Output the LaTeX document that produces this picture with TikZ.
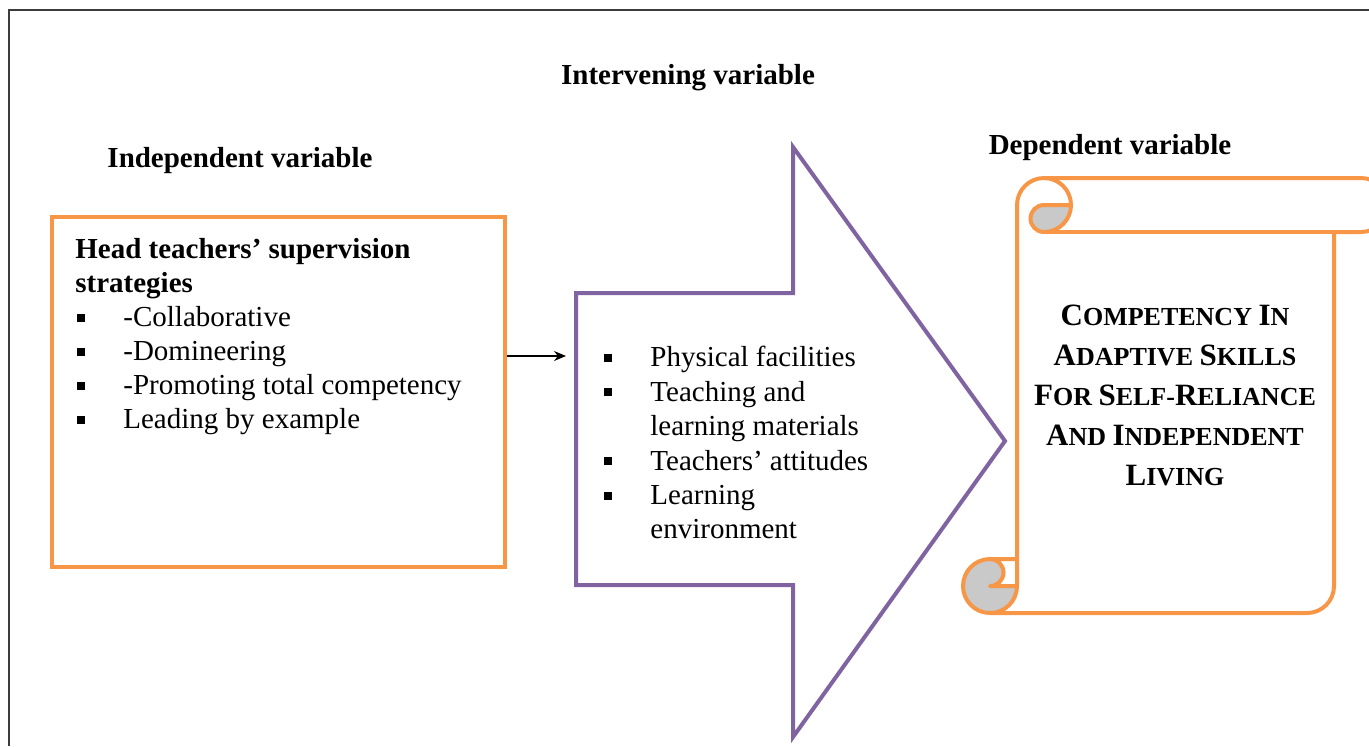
\documentclass[tikz,border=0pt]{standalone}
\usepackage{fontspec}
\setmainfont{Liberation Serif}
\usepackage{tikz}
\usetikzlibrary{arrows.meta,positioning}

\definecolor{fw_orange}{HTML}{F79646}
\definecolor{fw_purple}{HTML}{8064A2}
\definecolor{fw_curl}{HTML}{C9C9C9}
\definecolor{fw_frame}{HTML}{3C3C3C}

% square list bullet and a bulleted line
\newcommand{\sqbullet}{\rule[2.4pt]{4pt}{4pt}}
\newcommand{\bitem}[1]{\hspace*{1pt}\makebox[23pt][l]{\sqbullet}#1}
\newcommand{\bcont}[1]{\hspace*{24pt}#1}
% enlarged first letter for the caps title
\newcommand{\initcap}[1]{{\fontsize{15.5}{20}\selectfont #1}}

\tikzset{
    vartitle/.style={font=\fontsize{14.5}{17}\selectfont\bfseries, inner sep=0pt},
    listtext/.style={font=\fontsize{14.5}{17}\selectfont, align=left, inner sep=0pt, anchor=north west},
    scroll/.style={draw=fw_orange, line width=2pt, line join=round},
}

\begin{document}
\begin{tikzpicture}[x=0.5pt, y=-0.5pt]
        \useasboundingbox (0,0) rectangle (1369,746);

        % page frame
        \draw[fw_frame, line width=0.8pt] (9,746) -- (9,10) -- (1369,10);

        % headings
        \node[vartitle] (intlab) at (688,78) {Intervening variable};
        \node[vartitle] (indlab) at (240,161) {Independent variable};
        \node[vartitle] (deplab) at (1110,148) {Dependent variable};

        % independent variable box
        \node[draw=fw_orange, line width=2pt, minimum width=226.5pt, minimum height=175pt] (ind) at (278.5,392) {};
        \node[listtext] (indtext) at (75,238) {%
            \textbf{Head teachers' supervision}\\
            \textbf{strategies}\\
            \bitem{-Collaborative}\\
            \bitem{-Domineering}\\
            \bitem{-Promoting total competency}\\
            \bitem{Leading by example}};

        % intervening variable arrow
        \draw[fw_purple, line width=2pt, line join=miter, fill=white]
            (576,293) -- (793,293) -- (793,147) -- (1005,441)
            -- (793,737) -- (793,585) -- (576,585) -- cycle;
        \coordinate (intin) at (566,356);
        \node[listtext, font=\fontsize{14.5}{17.2}\selectfont] (inttext) at (602,346) {%
            \bitem{Physical facilities}\\
            \bitem{Teaching and}\\
            \bcont{learning materials}\\
            \bitem{Teachers' attitudes}\\
            \bitem{Learning}\\
            \bcont{environment}};

        \draw[-{Stealth[length=6pt,width=5pt]}, line width=0.6pt] (ind.east |- intin) -- (intin);

        % dependent variable scroll
        \fill[white] (1017,559) -- (1017,205) arc[start angle=180, delta angle=90, radius=27]
            -- (1361,178) arc[start angle=270, delta angle=180, radius=27]
            -- (1334,232) -- (1334,586) arc[start angle=0, delta angle=90, radius=27]
            -- (990,613) arc[start angle=90, delta angle=180, radius=27] -- cycle;
        \fill[fw_curl] (1071,205) arc[start angle=0, delta angle=90, radius=27]
            arc[start angle=90, delta angle=180, radius=13.5] -- cycle;
        \fill[fw_curl] (990,559) arc[start angle=270, delta angle=180, radius=13.5] -- (1017,586)
            arc[start angle=0, delta angle=90, radius=27]
            arc[start angle=90, delta angle=180, radius=27] -- cycle;
        \draw[scroll] (1017,559) -- (1017,205) arc[start angle=180, delta angle=90, radius=27]
            -- (1361,178) arc[start angle=270, delta angle=180, radius=27]
            -- (1334,232) -- (1334,586) arc[start angle=0, delta angle=90, radius=27]
            -- (990,613) arc[start angle=90, delta angle=180, radius=27] -- cycle;
        \draw[scroll] (1044,178) arc[start angle=270, delta angle=180, radius=27]
            arc[start angle=90, delta angle=180, radius=13.5] -- (1071,205);
        \draw[scroll] (1334,232) -- (1044,232);
        \draw[scroll] (990,559) arc[start angle=270, delta angle=180, radius=13.5] -- (1017,586);
        \draw[scroll] (990,613) arc[start angle=90, delta angle=-90, radius=27] -- (1017,559);

        \node[font=\fontsize{13}{20}\selectfont\bfseries, align=center, inner sep=0pt] (dep) at (1175,395) {%
            \initcap{C}OMPETENCY \initcap{I}N\\
            \initcap{A}DAPTIVE \initcap{S}KILLS\\
            \initcap{F}OR \initcap{S}ELF-\initcap{R}ELIANCE\\
            \initcap{A}ND \initcap{I}NDEPENDENT\\
            \initcap{L}IVING};

\end{tikzpicture}
\end{document}
